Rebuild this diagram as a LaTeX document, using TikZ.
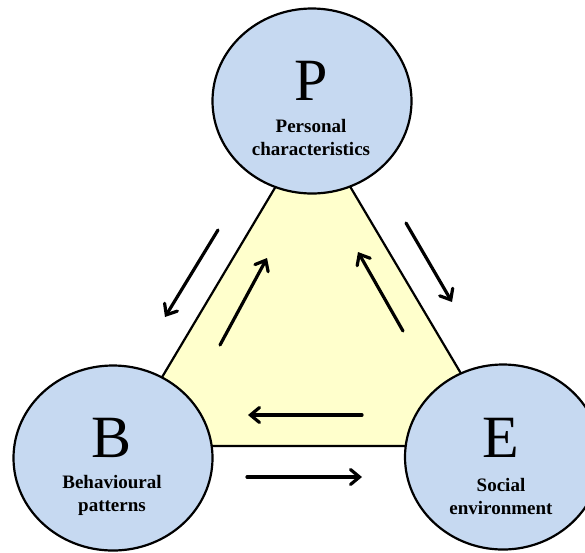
\documentclass[tikz,border=0pt]{standalone}
\usepackage{fontspec}
\setmainfont{Liberation Serif}
\usetikzlibrary{shapes.geometric,arrows.meta}
\definecolor{discblue}{RGB}{198,217,241}
\definecolor{paleyellow}{RGB}{255,255,204}
\begin{document}
\begin{tikzpicture}[x=1pt,y=-1pt,
  disc/.style={ellipse, draw=black, line width=2.2pt, fill=discblue,
    minimum width=199pt, minimum height=185pt, inner sep=0pt},
  letter/.style={font=\fontsize{60}{60}\selectfont, anchor=base, inner sep=0pt},
  caption/.style={font=\fontsize{19}{23}\selectfont\bfseries, align=center,
    anchor=base, inner sep=0pt},
  flow/.style={line width=3.2pt, line cap=round,
    -{Straight Barb[length=9pt,width=15pt,line cap=round]}}
]
\useasboundingbox (0,0) rectangle (585,552);
\clip (0,0) rectangle (585,552);

% central triangle
\coordinate (tA) at (313,124);
\coordinate (tB) at (121,446);
\coordinate (tC) at (504,446);
\filldraw[fill=paleyellow, line width=2.2pt, line join=miter] (tA) -- (tB) -- (tC) -- cycle;

% the three discs
\node[disc] (P) at (312,101) {};
\node[disc] (B) at (113,458) {};
\node[disc, minimum width=196pt] (E) at (503,457) {};

% letters and captions (caption anchor sits on the baseline of its last line)
\node[letter] (Pl) at (311,100) {P};
\node[caption] (Pc) at (311,155) {Personal\\characteristics};
\node[letter] (Bl) at (112,457) {B};
\node[caption] (Bc) at (112,511) {Behavioural\\patterns};
\node[letter] (El) at (501,457) {E};
\node[caption] (Ec) at (501,514) {Social\\environment};

% arrow end points
\coordinate (lo1) at (218,230); \coordinate (lo2) at (165,317);
\coordinate (li1) at (220,345); \coordinate (li2) at (267,258);
\coordinate (ri1) at (403,331); \coordinate (ri2) at (358,252);
\coordinate (ro1) at (406,223); \coordinate (ro2) at (452,302);
\coordinate (bi1) at (362,415); \coordinate (bi2) at (248,415);
\coordinate (bo1) at (247,477); \coordinate (bo2) at (362,477);

\draw[flow] (lo1) -- (lo2);
\draw[flow] (li1) -- (li2);
\draw[flow] (ri1) -- (ri2);
\draw[flow] (ro1) -- (ro2);
\draw[flow] (bi1) -- (bi2);
\draw[flow] (bo1) -- (bo2);
\end{tikzpicture}
\end{document}
